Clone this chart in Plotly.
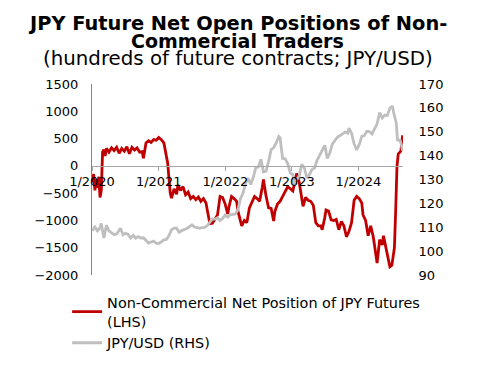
import plotly.graph_objects as go

# Non-commercial net position of JPY futures (hundreds of contracts), LHS
pos_dates = [
    "2020-01-03", "2020-01-10", "2020-01-17", "2020-01-24", "2020-01-31", "2020-02-07",
    "2020-02-14", "2020-02-21", "2020-02-28", "2020-03-06", "2020-03-13", "2020-03-20",
    "2020-04-03", "2020-04-17", "2020-05-01", "2020-05-15", "2020-05-29", "2020-06-12",
    "2020-06-26", "2020-07-10", "2020-07-24", "2020-08-07", "2020-08-21", "2020-09-04",
    "2020-09-18", "2020-10-02", "2020-10-09", "2020-10-23", "2020-11-06", "2020-11-20",
    "2020-12-04", "2020-12-18", "2021-01-01", "2021-01-15", "2021-01-29", "2021-02-05",
    "2021-02-12", "2021-02-19", "2021-02-26", "2021-03-05", "2021-03-12", "2021-03-26",
    "2021-04-09", "2021-04-16", "2021-04-30", "2021-05-14", "2021-05-28", "2021-06-11",
    "2021-06-25", "2021-07-09", "2021-07-23", "2021-08-06", "2021-08-20", "2021-09-03",
    "2021-09-17", "2021-09-28", "2021-10-08", "2021-10-22", "2021-11-05", "2021-11-19",
    "2021-12-03", "2021-12-17", "2021-12-31", "2022-01-14", "2022-01-21", "2022-02-04",
    "2022-02-18", "2022-03-04", "2022-03-11", "2022-03-25", "2022-04-01", "2022-04-15",
    "2022-04-29", "2022-05-13", "2022-05-27", "2022-06-10", "2022-06-24", "2022-07-08",
    "2022-07-22", "2022-07-29", "2022-08-12", "2022-08-26", "2022-09-09", "2022-09-23",
    "2022-09-30", "2022-10-14", "2022-10-28", "2022-11-11", "2022-11-25", "2022-12-09",
    "2022-12-23", "2023-01-06", "2023-01-20", "2023-01-27", "2023-02-10", "2023-02-24",
    "2023-03-03", "2023-03-17", "2023-03-31", "2023-04-14", "2023-04-28", "2023-05-12",
    "2023-05-26", "2023-06-09", "2023-06-16", "2023-06-30", "2023-07-07", "2023-07-21",
    "2023-08-04", "2023-08-18", "2023-09-01", "2023-09-15", "2023-09-29", "2023-10-13",
    "2023-10-27", "2023-11-10", "2023-11-24", "2023-12-08", "2023-12-22", "2024-01-05",
    "2024-01-19", "2024-01-26", "2024-02-09", "2024-02-23", "2024-03-08", "2024-03-22",
    "2024-03-29", "2024-04-12", "2024-04-26", "2024-05-10", "2024-05-17", "2024-05-24",
    "2024-06-07", "2024-06-21", "2024-07-02", "2024-07-16", "2024-07-23", "2024-07-30",
    "2024-08-06", "2024-08-20", "2024-08-30",
]
pos_values = [
    -300, -150, -450, -250, -400, -200,
    -580, -450, 250, 300, 180, 320,
    250, 330, 280, 340, 230, 320,
    270, 350, 220, 340, 290, 330,
    250, 260, 140, 420, 460, 430,
    480, 470, 520, 480, 420, 300,
    240, 50, -230, -500, -590, -420,
    -520, -350, -450, -380, -530, -480,
    -600, -560, -620, -570, -650, -600,
    -680, -900, -1060, -1050, -980, -900,
    -560, -580, -700, -880, -750, -560,
    -600, -650, -830, -1050, -1100, -1000,
    -1040, -770, -650, -560, -600, -650,
    -400, -250, -550, -770, -780, -1010,
    -830, -700, -650, -550, -470, -380,
    -420, -460, -250, -140, -300, -560,
    -740, -580, -630, -650, -720, -1040,
    -1100, -1100, -1170, -950, -810, -830,
    -990, -1000, -980, -1170, -1020, -1100,
    -1300, -1200, -1040, -630, -560, -600,
    -680, -900, -1000, -1280, -1100, -1300,
    -1460, -1780, -1350, -1450, -1280, -1400,
    -1640, -1850, -1820, -1500, -810, -10,
    220, 270, 560,
]

# JPY/USD exchange rate, RHS
fx_dates = [
    "2020-01-03", "2020-01-17", "2020-01-31", "2020-02-14", "2020-02-21", "2020-03-06",
    "2020-03-13", "2020-03-20", "2020-04-03", "2020-04-17", "2020-05-01", "2020-05-15",
    "2020-06-05", "2020-06-19", "2020-07-03", "2020-07-17", "2020-07-31", "2020-08-14",
    "2020-08-28", "2020-09-11", "2020-09-25", "2020-10-09", "2020-10-23", "2020-11-06",
    "2020-11-20", "2020-12-04", "2020-12-18", "2021-01-01", "2021-01-15", "2021-01-29",
    "2021-02-12", "2021-02-26", "2021-03-12", "2021-03-26", "2021-04-09", "2021-04-23",
    "2021-05-07", "2021-05-21", "2021-06-04", "2021-06-18", "2021-07-02", "2021-07-16",
    "2021-07-30", "2021-08-13", "2021-08-27", "2021-09-10", "2021-09-24", "2021-10-08",
    "2021-10-22", "2021-11-05", "2021-11-19", "2021-12-03", "2021-12-17", "2021-12-31",
    "2022-01-14", "2022-01-28", "2022-02-11", "2022-02-25", "2022-03-11", "2022-03-25",
    "2022-04-08", "2022-04-22", "2022-05-06", "2022-05-20", "2022-06-03", "2022-06-17",
    "2022-07-01", "2022-07-15", "2022-07-29", "2022-08-12", "2022-08-26", "2022-09-09",
    "2022-09-23", "2022-10-07", "2022-10-21", "2022-10-28", "2022-11-11", "2022-11-25",
    "2022-12-09", "2022-12-23", "2023-01-06", "2023-01-13", "2023-01-27", "2023-02-10",
    "2023-02-24", "2023-03-10", "2023-03-24", "2023-04-07", "2023-04-21", "2023-05-05",
    "2023-05-19", "2023-06-02", "2023-06-16", "2023-06-30", "2023-07-14", "2023-07-28",
    "2023-08-11", "2023-08-25", "2023-09-08", "2023-09-22", "2023-10-06", "2023-10-20",
    "2023-11-03", "2023-11-10", "2023-11-24", "2023-12-08", "2023-12-22", "2024-01-05",
    "2024-01-19", "2024-02-02", "2024-02-16", "2024-03-01", "2024-03-15", "2024-03-29",
    "2024-04-12", "2024-04-26", "2024-05-10", "2024-05-24", "2024-06-07", "2024-06-21",
    "2024-07-05", "2024-07-12", "2024-07-26", "2024-08-02", "2024-08-09", "2024-08-16",
    "2024-08-23", "2024-08-30",
]
fx_values = [
    108.5, 110.1, 108.5, 109.8, 111.6, 105.5,
    108.0, 110.8, 108.5, 107.5, 106.9, 107.2,
    109.6, 106.9, 107.5, 107.0, 105.5, 106.6,
    105.4, 106.1, 105.5, 105.6, 104.7, 103.4,
    103.8, 104.2, 103.3, 103.2, 103.9, 104.7,
    104.9, 106.5, 109.0, 109.6, 109.6, 107.9,
    108.6, 108.9, 109.5, 110.2, 111.0, 110.1,
    109.7, 109.6, 109.8, 109.9, 110.7, 112.2,
    113.5, 113.4, 114.0, 112.8, 113.7, 115.1,
    114.2, 115.2, 115.4, 115.6, 117.3, 122.0,
    124.3, 128.5, 130.5, 127.9, 130.8, 135.0,
    135.2, 138.5, 133.2, 133.4, 137.5, 142.5,
    143.4, 145.3, 148.0, 147.5, 138.8, 138.7,
    136.6, 132.8, 132.1, 128.0, 129.9, 131.4,
    136.4, 134.9, 130.7, 132.1, 134.2, 134.8,
    138.0, 139.9, 141.9, 144.3, 138.8, 141.2,
    144.9, 146.4, 147.8, 148.4, 149.3, 149.9,
    149.4, 151.5, 149.4, 144.9, 142.4, 144.6,
    148.1, 148.4, 150.2, 150.1, 149.1, 151.4,
    153.3, 158.0, 155.8, 157.0, 156.8, 159.8,
    160.8, 157.9, 153.8, 146.5, 146.6, 146.5,
    144.5, 142.0,
]

title_lines = [
    "<b>JPY Future Net Open Positions of Non-</b>",
    "<b>Commercial Traders</b>",
    "(hundreds of future contracts; JPY/USD)",
]
title_sizes = [19.4, 19, 19.8]

FONT = "DejaVu Sans"
LHS_RANGE = [-2000, 1500]
RHS_RANGE = [90, 170]
ZERO_FRAC = (0 - LHS_RANGE[0]) / (LHS_RANGE[1] - LHS_RANGE[0])

fig = go.Figure()
fig.add_trace(go.Scatter(
    x=fx_dates, y=fx_values, name="JPY/USD (RHS)", yaxis="y2", mode="lines",
    line=dict(color="#bfbfbf", width=2.8), legendrank=2,
))
fig.add_trace(go.Scatter(
    x=pos_dates, y=pos_values,
    name="Non-Commercial Net Position of JPY Futures<br>(LHS)", mode="lines",
    line=dict(color="#c00000", width=2.8), legendrank=1,
))

title_y = [1.317, 1.223, 1.136]
for txt, yy, sz in zip(title_lines, title_y, title_sizes):
    fig.add_annotation(
        text=txt, xref="paper", yref="paper", x=0.468, y=yy,
        xanchor="center", yanchor="middle", showarrow=False,
        font=dict(family=FONT, size=sz, color="black"),
    )

fig.update_layout(
    width=491, height=371,
    margin=dict(l=92, r=88, t=84, b=92, pad=0),
    paper_bgcolor="white", plot_bgcolor="white",
    font=dict(family=FONT, size=13, color="black"),
    showlegend=True,
    legend=dict(
        x=-0.08, y=-0.06,
        xanchor="left", yanchor="top", bgcolor="rgba(0,0,0,0)",
        font=dict(family=FONT, size=14.4, color="black"),
        tracegroupgap=0,
    ),
    xaxis=dict(
        type="date", range=["2020-01-01", "2024-09-01"],
        anchor="free", position=ZERO_FRAC,
        showgrid=False, zeroline=False, showline=True, linecolor="#a6a6a6", linewidth=1,
        ticks="outside", ticklen=4, tickcolor="#a6a6a6",
        tick0="2020-01-01", dtick="M12", tickformat="%-m/%Y",
        tickfont=dict(family=FONT, size=13, color="black"),
    ),
    yaxis=dict(
        range=LHS_RANGE, dtick=500, showgrid=False, zeroline=False,
        showline=True, linecolor="#868686", linewidth=1,
        ticks="outside", ticklen=10, tickcolor="rgba(0,0,0,0)",
        tickfont=dict(family=FONT, size=13, color="black"),
    ),
    yaxis2=dict(
        range=RHS_RANGE, dtick=10, overlaying="y", side="right",
        showgrid=False, zeroline=False, showline=False,
        ticks="outside", ticklen=12, tickcolor="rgba(0,0,0,0)",
        tickfont=dict(family=FONT, size=13, color="black"),
    ),
)

fig.write_html(
    "out.html",
    config={"displayModeBar": False},
    post_script="document.body.style.margin='0';document.body.style.overflow='hidden';",
)
